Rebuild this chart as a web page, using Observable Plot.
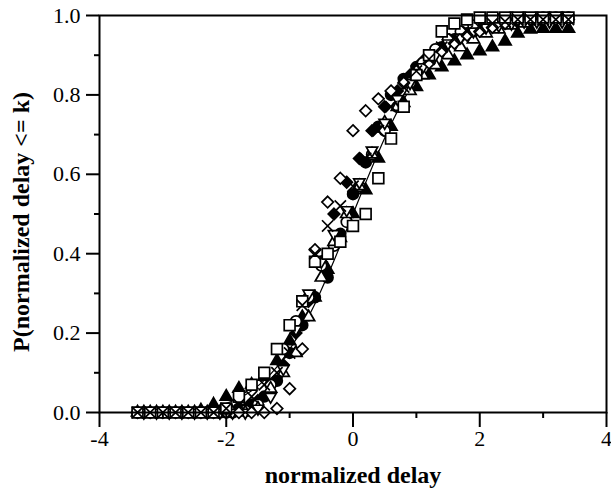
<!DOCTYPE html>
<html>
<head>
<meta charset="utf-8">
<script src="https://cdn.jsdelivr.net/npm/d3@7"></script>
<script src="https://cdn.jsdelivr.net/npm/@observablehq/plot@0.6"></script>
<style>
  html, body { margin: 0; padding: 0; background: #fff; }
</style>
</head>
<body>
<div id="chart"></div>
<script>
// ---- data ----
const xG1 = [-3.4,-3.2,-3.0,-2.8,-2.6,-2.4,-2.2,-2.0,-1.8,-1.6,-1.4,-1.2,-1.0,-0.8,-0.6,-0.4,-0.2,0,0.2,0.4,0.6,0.8,1.0,1.2,1.4,1.6,1.8,2.0,2.2,2.4,2.6,2.8,3.0,3.2,3.4];
const xG2 = [-3.3,-3.1,-2.9,-2.7,-2.5,-2.3,-2.1,-1.9,-1.7,-1.5,-1.3,-1.1,-0.9,-0.7,-0.5,-0.3,-0.1,0.1,0.3,0.5,0.7,0.9,1.1,1.3,1.5,1.7,1.9,2.1,2.3,2.5,2.7,2.9,3.1,3.3];

const openSquare = [0,0,0,0,0,0,0,0.01,0.04,0.07,0.1,0.16,0.22,0.28,0.38,0.4,0.43,0.47,0.5,0.59,0.69,0.77,0.85,0.9,0.96,0.98,0.99,0.995,0.995,0.995,0.995,0.995,0.995,0.995,0.995];
const filledCircle = [0,0,0,0,0,0,0,0,0.01,0.02,0.04,0.08,0.15,0.22,0.29,0.34,0.45,0.55,0.63,0.72,0.8,0.84,0.87,0.9,0.92,0.94,0.955,0.965,0.975,0.98,0.985,0.99,0.995,0.995,0.995];
const filledTriangle = [0,0,0,0,0,0.005,0.02,0.04,0.06,0.07,0.09,0.13,0.18,0.24,0.29,0.36,0.44,0.5,0.56,0.64,0.72,0.78,0.82,0.85,0.87,0.885,0.9,0.91,0.92,0.935,0.955,0.965,0.967,0.967,0.967];
const openDiamond = [0,0,0,0,0,0,0,0,0,0,0,0.01,0.06,0.16,0.41,0.53,0.59,0.71,0.76,0.79,0.81,0.83,0.86,0.88,0.91,0.93,0.95,0.96,0.97,0.98,0.99,0.99,0.99,0.99,0.99];
const crossMark = [0,0,0,0,0,0,0,0.01,0.02,0.04,0.07,0.1,0.15,0.27,0.4,0.47,0.52,0.57,0.64,0.71,0.77,0.82,0.86,0.89,0.92,0.94,0.96,0.97,0.98,0.985,0.99,0.99,0.99,0.99,0.99];
const fitLine = [0,0.001,0.001,0.003,0.005,0.008,0.014,0.023,0.036,0.055,0.081,0.115,0.159,0.212,0.274,0.345,0.421,0.5,0.579,0.655,0.726,0.788,0.841,0.885,0.919,0.945,0.964,0.977,0.986,0.992,0.995,0.997,0.999,0.999,1];

const openCircle = [0,0,0,0,0,0,0,0,0.005,0.02,0.07,0.16,0.23,0.29,0.37,0.42,0.48,0.57,0.65,0.71,0.77,0.83,0.88,0.915,0.94,0.96,0.975,0.985,0.99,0.995,0.995,0.995,0.995,0.995];
const openTriangle = [0,0,0,0,0,0,0,0,0,0.01,0.06,0.1,0.15,0.24,0.34,0.43,0.5,0.57,0.65,0.73,0.77,0.81,0.85,0.875,0.9,0.92,0.94,0.955,0.965,0.975,0.98,0.985,0.99,0.99];
const filledDiamond = [0,0,0,0,0,0,0,0,0.01,0.03,0.07,0.12,0.2,0.28,0.38,0.5,0.58,0.64,0.71,0.77,0.81,0.85,0.885,0.91,0.93,0.945,0.955,0.965,0.975,0.98,0.985,0.99,0.99,0.99];
const openDownTriangle = [0,0,0,0,0,0,0,0,0,0.01,0.04,0.11,0.21,0.3,0.38,0.45,0.51,0.58,0.66,0.73,0.79,0.83,0.87,0.9,0.93,0.945,0.96,0.97,0.975,0.98,0.985,0.985,0.985,0.985];

const xTicks = [-4, -2, 0, 2, 4];
const xMinorTicks = [-3, -1, 1, 3];
const yTicks = [0, 0.2, 0.4, 0.6, 0.8, 1.0];
const yMinorTicks = [0.1, 0.3, 0.5, 0.7, 0.9];
const xLabel = "normalized delay";
const yLabel = "P(normalized delay <= k)";

// ---- marks ----
const triangleDown = {
  draw(context, size) {
    const sqrt3 = Math.sqrt(3);
    const y = -Math.sqrt(size / (sqrt3 * 3));
    context.moveTo(0, -y * 2);
    context.lineTo(-sqrt3 * y, y);
    context.lineTo(sqrt3 * y, y);
    context.closePath();
  }
};

const toRows = (xs, ys) => ys.map((y, i) => ({x: xs[i], y}));

const series = [
  {xs: xG1, ys: filledCircle, symbol: "circle", fill: "black", r: 5.4},
  {xs: xG1, ys: filledTriangle, symbol: "triangle", fill: "black", r: 4.5},
  {xs: xG2, ys: filledDiamond, symbol: "diamond2", fill: "black", r: 5.2},
  {xs: xG2, ys: openCircle, symbol: "circle", fill: "white", r: 5.4},
  {xs: xG2, ys: openTriangle, symbol: "triangle", fill: "white", r: 4.5},
  {xs: xG2, ys: openDownTriangle, symbol: triangleDown, fill: "white", r: 4.2},
  {xs: xG1, ys: openDiamond, symbol: "diamond2", fill: "white", r: 5.2},
  {xs: xG1, ys: openSquare, symbol: "square", fill: "white", r: 6.1},
  {xs: xG1, ys: crossMark, symbol: "times", fill: "none", r: 5.2}
];

const chart = Plot.plot({
  width: 611,
  height: 489,
  marginLeft: 99,
  marginRight: 5,
  marginTop: 15,
  marginBottom: 77,
  style: {fontFamily: "'Liberation Serif', 'Times New Roman', serif", fontSize: "22px", background: "white", color: "black"},
  x: {domain: [-4, 4]},
  y: {domain: [0, 1]},
  marks: [
    Plot.line(toRows(xG1, fitLine), {x: "x", y: "y", stroke: "black", strokeWidth: 1.2, curve: "monotone-x"}),
    ...series.map(s => Plot.dot(toRows(s.xs, s.ys), {
      x: "x", y: "y", symbol: s.symbol, r: s.r,
      fill: s.fill, stroke: "black", strokeWidth: 1.7
    })),
    Plot.frame({stroke: "black", strokeWidth: 2}),
    Plot.axisX(xTicks, {tickSize: 15, tickPadding: 3, strokeWidth: 2, tickFormat: d => String(d), fontSize: 22, label: null}),
    Plot.axisX(xMinorTicks, {tickSize: 6, strokeWidth: 2, tickFormat: () => "", label: null}),
    Plot.axisY(yTicks, {tickSize: 13, tickPadding: 6, strokeWidth: 2, tickFormat: d3.format(".1f"), fontSize: 22, label: null}),
    Plot.axisY(yMinorTicks, {tickSize: 5, strokeWidth: 2, tickFormat: () => "", label: null}),
    Plot.text([xLabel], {frameAnchor: "bottom", dy: 70, textAnchor: "middle", lineAnchor: "bottom", text: d => d, fontWeight: "bold", fontSize: 24}),
    Plot.text([yLabel], {frameAnchor: "left", dx: -71, dy: 8, rotate: -90, textAnchor: "middle", lineAnchor: "bottom", text: d => d, fontWeight: "bold", fontSize: 24})
  ]
});

document.getElementById("chart").appendChild(chart);
</script>
</body>
</html>
